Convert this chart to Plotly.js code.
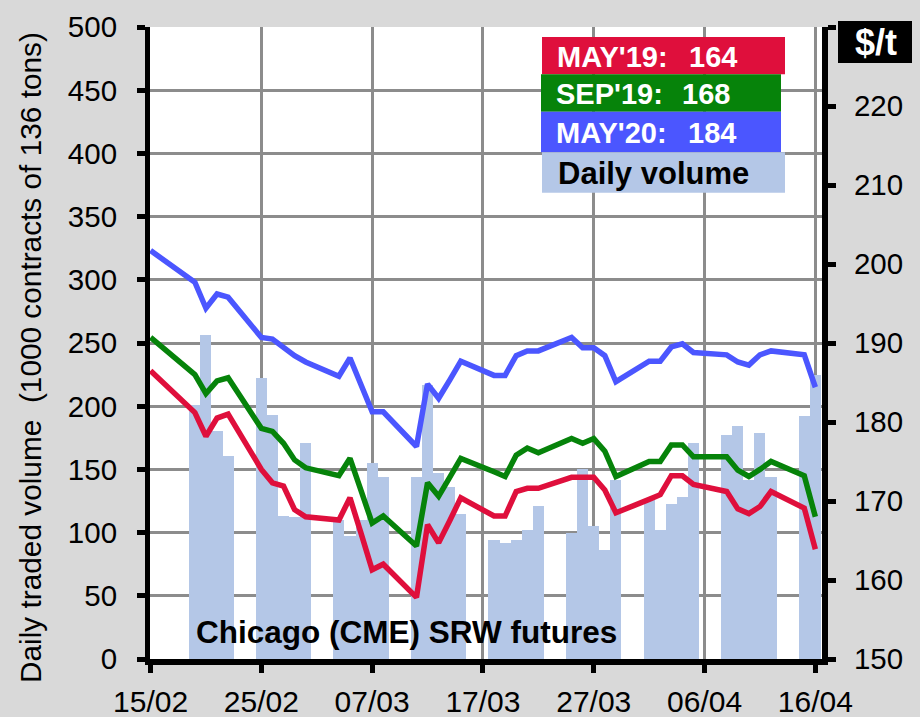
<!DOCTYPE html>
<html><head><meta charset="utf-8">
<script src="https://cdn.plot.ly/plotly-3.0.1.min.js"></script>
<style>html,body{margin:0;padding:0;background:#D9D9D9;}#chart{width:920px;height:717px;}</style>
</head><body><div id="chart"></div>
<script>
const dates = ['2019-02-15','2019-02-19','2019-02-20','2019-02-21','2019-02-22',
'2019-02-25','2019-02-26','2019-02-27','2019-02-28','2019-03-01',
'2019-03-04','2019-03-05','2019-03-06','2019-03-07','2019-03-08',
'2019-03-11','2019-03-12','2019-03-13','2019-03-14','2019-03-15',
'2019-03-18','2019-03-19','2019-03-20','2019-03-21','2019-03-22',
'2019-03-25','2019-03-26','2019-03-27','2019-03-28','2019-03-29',
'2019-04-01','2019-04-02','2019-04-03','2019-04-04','2019-04-05',
'2019-04-08','2019-04-09','2019-04-10','2019-04-11','2019-04-12',
'2019-04-15','2019-04-16'];
const may20 = [201.7,197.7,194.4,196.2,195.8, 190.7,190.5,189.4,188.4,187.6,
185.8,188.1,184.7,181.3,181.3, 176.9,184.8,183.0,185.3,187.7,
185.9,185.9,188.4,189.0,189.0, 190.7,189.4,189.4,188.4,185.1,
187.7,187.7,189.5,189.9,188.8, 188.5,187.6,187.2,188.5,189.0,
188.5,184.4];
const sep19 = [190.7,186.0,183.6,185.2,185.6, 179.2,178.8,177.3,175.2,174.2,
173.2,175.4,171.3,167.2,168.1, 164.3,172.3,170.6,173.0,175.4,
173.7,173.1,175.8,176.7,176.1, 177.9,177.3,177.9,176.3,173.1,
175.0,175.0,177.1,177.1,175.6, 175.6,173.9,173.1,174.0,175.0,
173.2,168.0];
const may19 = [186.5,181.2,178.2,180.5,181.0, 174.0,172.3,171.9,168.9,168.0,
167.6,170.4,165.9,161.3,162.0, 157.8,167.0,164.7,167.5,170.4,
168.1,168.1,171.2,171.6,171.6, 173.0,173.0,173.0,171.4,168.5,
170.2,170.8,173.2,173.2,172.1, 171.2,169.0,168.4,169.3,171.2,
169.1,163.9];
const volume = [null,201,256,180,161, 222,193,113,112,171,
110,97,110,155,144, 144,217,147,136,115,
94,92,94,102,121, 100,150,105,86,142,
126,102,123,128,171, 177,184,142,179,144,
192,225];
const xTickVals = ['2019-02-15','2019-02-25','2019-03-07','2019-03-17','2019-03-27','2019-04-06','2019-04-16'];
const xTickText = ['15/02','25/02','07/03','17/03','27/03','06/04','16/04'];
const leftTickVals = [0,50,100,150,200,250,300,350,400,450,500];
const rightTickVals = [150,160,170,180,190,200,210,220,230];
const rightTickText = ['150','160','170','180','190','200','210','220',''];
const seriesNames = ["MAY'19:", "SEP'19:", "MAY'20:"];
const seriesLast = ['164','168','184'];
const volumeName = 'Daily volume';
const yTitle = 'Daily traded volume\u00A0 (1000 contracts of 136 tons)';
const unitLabel = '$/t';
const chartNote = 'Chicago (CME) SRW futures';

const RED = '#DF0F3C', GREEN = '#06830A', BLUE = '#4B56FF', VOL = '#B4C7E7';
const PL = 150, PW = 672, PT = 27, PH = 632;
const px = x => (x - PL) / PW;
const py = y => (PT + PH - y) / PH;
const FONT = 'Liberation Sans, Arial, sans-serif';

const traces = [
  {type:'bar', x:dates, y:volume, width:86400000, name:volumeName, yaxis:'y',
   marker:{color:VOL, line:{width:0}}},
  {type:'scatter', mode:'lines', x:dates, y:may19, name:seriesNames[0], yaxis:'y2',
   line:{color:RED, width:5.5}},
  {type:'scatter', mode:'lines', x:dates, y:sep19, name:seriesNames[1], yaxis:'y2',
   line:{color:GREEN, width:5.5}},
  {type:'scatter', mode:'lines', x:dates, y:may20, name:seriesNames[2], yaxis:'y2',
   line:{color:BLUE, width:5.5}}
];

function rect(x0,x1,y0,y1,color){
  return {type:'rect', xref:'paper', yref:'paper', x0:px(x0), x1:px(x1), y0:py(y1), y1:py(y0),
          fillcolor:color, line:{width:0}, layer:'above'};
}
function txt(text,x,y,color,size,anchor){
  return {text:text, xref:'paper', yref:'paper', x:px(x), y:py(y), xanchor:anchor||'left', yanchor:'middle',
          showarrow:false, font:{family:FONT, size:size, color:color}};
}
const boxColors = [RED, GREEN, BLUE];
const boxes = [[542,785,37,74.3],[541,781,74.3,111.7],[541,781,111.7,152.3],[542,785,152.3,192.7]];
const nameX = [555, 554, 554];
const valX = [687, 680, 686];
const rowY = [57, 94, 133];

const shapes = [];
const annotations = [];
for (let i=0;i<3;i++){
  const b = boxes[i];
  shapes.push(rect(b[0],b[1],b[2],b[3],boxColors[i]));
  annotations.push(txt('<b>'+seriesNames[i]+'</b>', nameX[i], rowY[i], '#FFFFFF', 29));
  annotations.push(txt('<b>'+seriesLast[i]+'</b>', valX[i], rowY[i], '#FFFFFF', 29));
}
shapes.push(rect(boxes[3][0],boxes[3][1],boxes[3][2],boxes[3][3],VOL));
annotations.push(txt('<b>'+volumeName+'</b>', 556, 173, '#000000', 31));
shapes.push(rect(838,912,21,63,'#000000'));
annotations.push(txt('<b>'+unitLabel+'</b>', 876, 42, '#FFFFFF', 36, 'center'));
annotations.push(txt('<b>'+chartNote+'</b>', 406, 632, '#000000', 31.5, 'center'));
annotations.push({text:yTitle, xref:'paper', yref:'paper', x:px(30), y:py(358), xanchor:'center', yanchor:'middle',
  textangle:-90, showarrow:false, font:{family:FONT, size:29.8, color:'#000000'}});

const axisCommon = {showline:true, linecolor:'#000000', ticks:'outside', tickcolor:'#000000',
  ticklen:8, tickwidth:5, zeroline:false, fixedrange:true,
  tickfont:{family:FONT, size:29.5, color:'#000000'}};

const layout = {
  width:920, height:717,
  margin:{l:PL, r:920-PL-PW, t:PT, b:717-PT-PH, pad:0},
  paper_bgcolor:'#D9D9D9', plot_bgcolor:'#FFFFFF',
  font:{family:FONT, size:28, color:'#000000'},
  showlegend:false, bargap:0,
  xaxis:Object.assign({}, axisCommon, {type:'date', range:['2019-02-14 22:48','2019-04-16 14:24'],
    tickmode:'array', tickvals:xTickVals, ticktext:xTickText, showgrid:true, gridcolor:'#8C8C8C', gridwidth:3,
    linewidth:6, ticklabelstandoff:3, tickfont:{family:FONT, size:30, color:'#000000'}}),
  yaxis:Object.assign({}, axisCommon, {range:[0,500], tickmode:'array', tickvals:leftTickVals,
    showgrid:true, gridcolor:'#8C8C8C', gridwidth:3, linewidth:5, ticklabelstandoff:14}),
  yaxis2:Object.assign({}, axisCommon, {overlaying:'y', side:'right', range:[150,230], tickmode:'array',
    tickvals:rightTickVals, ticktext:rightTickText, showgrid:false, linewidth:6, ticklabelstandoff:12}),
  shapes:shapes, annotations:annotations
};
Plotly.newPlot('chart', traces, layout, {displayModeBar:false, staticPlot:true});
</script></body></html>
